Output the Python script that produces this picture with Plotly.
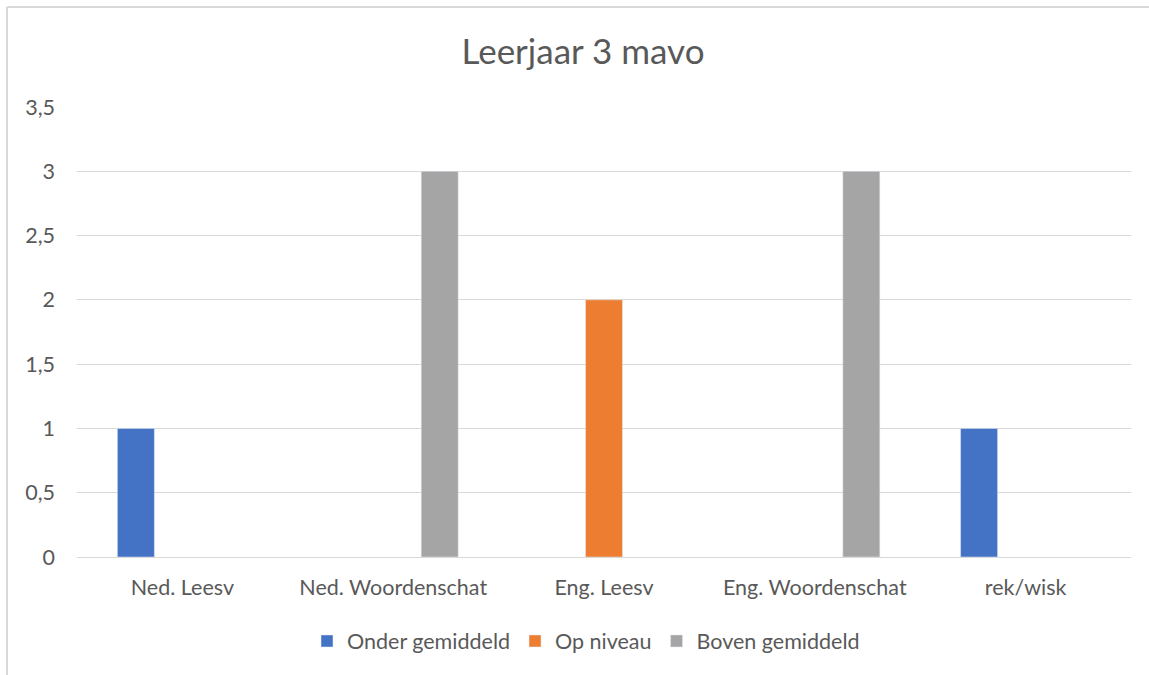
import plotly.graph_objects as go

categories = ["Ned. Leesv", "Ned. Woordenschat", "Eng. Leesv", "Eng. Woordenschat", "rek/wisk"]
onder_gemiddeld = [1, None, None, None, 1]
op_niveau = [None, None, 2, None, None]
boven_gemiddeld = [None, 3, None, 3, None]
y_ticks = [0, 0.5, 1, 1.5, 2, 2.5, 3, 3.5]
y_tick_labels = ["0", "0,5", "1", "1,5", "2", "2,5", "3", "3,5"]

font_family = "Lato"
text_color = "#595959"
grid_color = "#d9d9d9"
fs = 21.5

fig = go.Figure()
fig.add_trace(go.Bar(name="Onder gemiddeld", x=categories, y=onder_gemiddeld, marker_color="#4472C4"))
fig.add_trace(go.Bar(name="Op niveau", x=categories, y=op_niveau, marker_color="#ED7D31"))
fig.add_trace(go.Bar(name="Boven gemiddeld", x=categories, y=boven_gemiddeld, marker_color="#A5A5A5"))

fig.update_layout(
    width=1149, height=675,
    margin=dict(l=77, r=18, t=107, b=118),
    paper_bgcolor="white", plot_bgcolor="white",
    barmode="group", bargap=0.338, bargroupgap=0.204,
    font=dict(family=font_family, color=text_color, size=fs),
    title=dict(text="Leerjaar 3 mavo", x=583 / 1149, xanchor="center", y=1 - 52 / 675, yanchor="middle",
               font=dict(size=35, color=text_color, family=font_family)),
    legend=dict(orientation="h", xref="container", x=586 / 1149, xanchor="center",
                yref="container", y=1 - 641 / 675,
                yanchor="middle", font=dict(size=fs, color=text_color), itemwidth=30,
                traceorder="normal"),
    showlegend=True,
)
fig.update_yaxes(range=[0, 3.5], tickvals=y_ticks, ticktext=y_tick_labels, showgrid=True,
                 gridcolor=grid_color, gridwidth=1, zeroline=False, showline=False,
                 ticks="", ticklabelstandoff=21, tickfont=dict(size=fs, color=text_color))
fig.update_xaxes(showgrid=False, showline=True, linecolor=grid_color, linewidth=1,
                 ticks="", ticklabelstandoff=11, tickfont=dict(size=fs, color=text_color))

# chart border (left and top edges visible)
fig.add_shape(type="line", xref="paper", yref="paper",
              x0=(7 - 77) / 1054, x1=(7 - 77) / 1054, y0=(557 - 700) / 450, y1=(557 - 7) / 450,
              line=dict(color=grid_color, width=2))
fig.add_shape(type="line", xref="paper", yref="paper",
              x0=(7 - 77) / 1054, x1=(1160 - 77) / 1054, y0=(557 - 7) / 450, y1=(557 - 7) / 450,
              line=dict(color=grid_color, width=2))

fig.write_html("out.html", config={"displayModeBar": False},
               post_script="document.body.style.margin='0';document.body.style.overflow='hidden';")
